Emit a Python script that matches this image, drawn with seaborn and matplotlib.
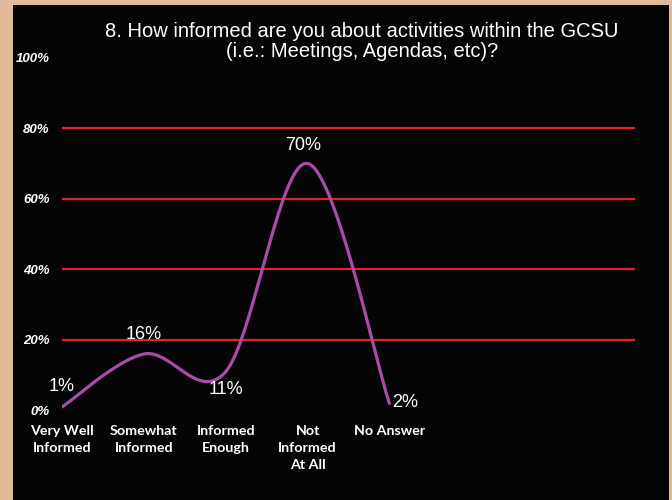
import numpy as np
import matplotlib
matplotlib.use("Agg")
import matplotlib.pyplot as plt
import matplotlib.patches as mpatches
import seaborn as sns

sns.set_theme(style="dark")
plt.rcParams["font.family"] = ["Liberation Sans", "DejaVu Sans"]

# data
categories = ["Very Well\nInformed", "Somewhat\nInformed", "Informed\nEnough",
              "Not\nInformed\nAt All", "No Answer"]
values = [1, 16, 11, 70, 2]
value_labels = ["1%", "16%", "11%", "70%", "2%"]
yticks = [0, 20, 40, 60, 80, 100]
ytick_labels = ["0%", "20%", "40%", "60%", "80%", "100%"]
title = "8. How informed are you about activities within the GCSU\n(i.e.: Meetings, Agendas, etc)?"

# label offsets in points (dx, dy)
label_offsets = [(0, 15), (0, 14), (0, -13), (-3, 13), (11, 1)]

LINE = "#a84ca8"
GRID = "#e02222"
TAN = "#dfbb9c"

fig = plt.figure(figsize=(6.72, 5), dpi=100, facecolor=TAN)
# black slide panel behind everything
fig.patches.append(mpatches.Rectangle((13 / 672, 0), 656 / 672, 495 / 500,
                                      transform=fig.transFigure,
                                      facecolor="#050505", edgecolor="none", zorder=-10))

ax = fig.add_axes([62 / 672, 89.5 / 500, 573 / 672, 353 / 500])
ax.set_facecolor("none")
ax.set_zorder(5)

# smoothed line: bezier segments (Excel-style smoothing) through the data points
x = np.arange(len(values), dtype=float)
y = np.array(values, dtype=float)
pts = np.column_stack([x, y])
padded = np.vstack([pts[0], pts, pts[-1]])
curve = []
t = np.linspace(0, 1, 40)[:, None]
for i in range(len(pts) - 1):
    p0, p3 = pts[i], pts[i + 1]
    c1 = p0 + (padded[i + 2] - padded[i]) / 6
    c2 = p3 - (padded[i + 3] - padded[i + 1]) / 6
    seg = ((1 - t) ** 3) * p0 + 3 * ((1 - t) ** 2) * t * c1 + 3 * (1 - t) * t ** 2 * c2 + t ** 3 * p3
    curve.append(seg if i == 0 else seg[1:])
curve = np.vstack(curve)

for g in [20, 40, 60, 80]:
    ax.axhline(g, color=GRID, lw=1.6, zorder=1)

sns.lineplot(x=curve[:, 0], y=curve[:, 1], sort=False, estimator=None,
             color=LINE, lw=2.3, ax=ax, zorder=3)

for xi, yi, lab, off in zip(x, y, value_labels, label_offsets):
    ax.annotate(lab, (xi, yi), xytext=off, textcoords="offset points",
                ha="center", va="center", color="white", fontsize=13)

ax.set_xlim(0, 7)
ax.set_ylim(0, 100)
ax.set_xticks([])
ax.set_yticks(yticks)
ax.set_yticklabels(ytick_labels, color="white", fontsize=9.5,
                   fontweight="bold", fontstyle="italic")
ax.tick_params(axis="y", length=0, pad=9)
ax.grid(False)
for s in ax.spines.values():
    s.set_visible(False)

for xi, cat in zip(x, categories):
    ax.text(xi, -4.2, cat, ha="center", va="top", color="white", fontsize=10.3,
            fontweight="bold", family=["Lato", "DejaVu Sans"], linespacing=1.5,
            clip_on=False)

fig.text(362 / 672, 1 - 41.5 / 500, title, ha="center", va="center",
         color="white", fontsize=14.5, linespacing=1.05)

fig.savefig("out.png", dpi=100, facecolor=TAN)
